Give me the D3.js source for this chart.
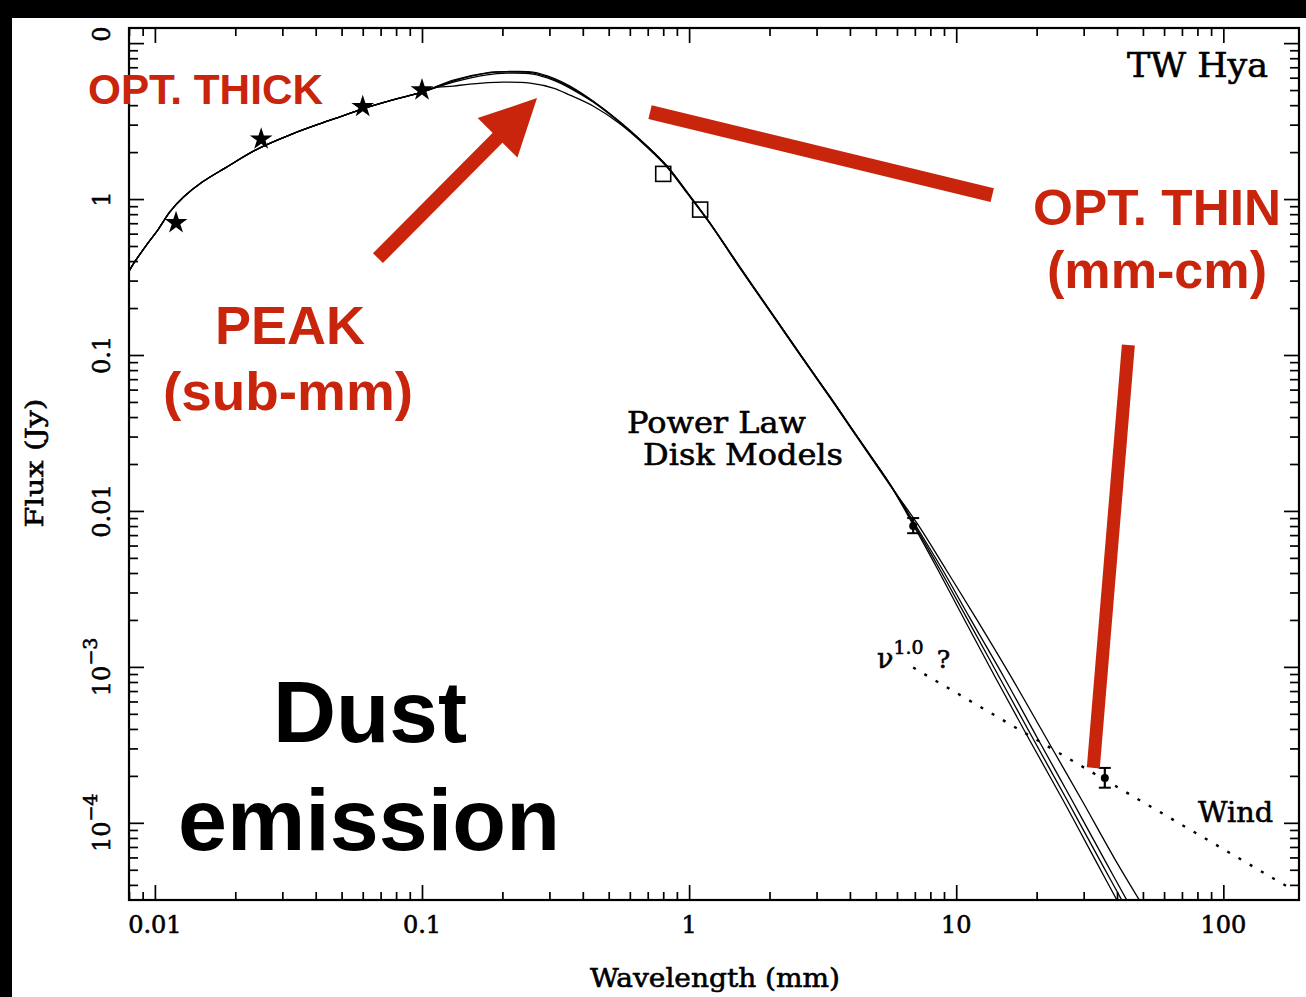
<!DOCTYPE html>
<html>
<head>
<meta charset="utf-8">
<script src="https://cdn.jsdelivr.net/npm/d3@7"></script>
<style>
  html, body { margin: 0; padding: 0; background: #000; }
  svg { display: block; }
</style>
</head>
<body>
<svg id="chart" width="1306" height="997"></svg>
<script>
// ---- Photometry: wavelength (mm), flux (Jy) ----
const irasStars = [[0.012, 0.705], [0.025, 2.42], [0.060, 3.91], [0.100, 5.00]];
const submmSquares = [[0.80, 1.45], [1.10, 0.856]];
// [wavelength, flux, low, high]
const radioPoints = [[6.9, 0.0080, 0.0072, 0.0090], [36, 1.94e-4, 1.68e-4, 2.25e-4]];

// ---- Power-law disk model SEDs ----
// optically thick part shared by all models
const thickPart = [[0.0080, 0.345], [0.0084, 0.395], [0.0094, 0.52], [0.0103, 0.640], [0.0114, 0.83],
  [0.0128, 1.03], [0.0150, 1.28], [0.0183, 1.58], [0.0243, 2.10], [0.0326, 2.61], [0.0422, 3.07],
  [0.0502, 3.40], [0.0612, 3.83], [0.0772, 4.31], [0.100, 4.85]];
const modelA = [[0.131, 5.71], [0.175, 6.42], [0.208, 6.57], [0.260, 6.52], [0.310, 5.97], [0.358, 5.30],
  [0.437, 4.25], [0.552, 3.12], [0.696, 2.19], [0.827, 1.63], [0.983, 1.11], [1.17, 0.744], [1.31, 0.562],
  [1.55, 0.367], [2.06, 0.181], [2.60, 0.1015], [3.37, 0.0538], [4.37, 0.0281], [5.66, 0.0147],
  [6.90, 0.00838], [8.71, 0.00418], [11.0, 0.00203], [14.6, 8.4e-4], [19.4, 3.46e-4], [26.0, 1.40e-4],
  [34.6, 5.7e-5], [43.0, 2.9e-5]];
const modelB = [[0.131, 5.62], [0.175, 6.25], [0.208, 6.42], [0.260, 6.33], [0.310, 5.79], [0.358, 5.15],
  [0.437, 4.19], [0.552, 3.08], [0.696, 2.17], [0.827, 1.62], [0.983, 1.10], [1.17, 0.738], [1.31, 0.558],
  [1.55, 0.364], [2.06, 0.181], [2.60, 0.1015], [3.37, 0.0536], [4.37, 0.0280], [5.66, 0.0147],
  [6.84, 0.00838], [8.55, 0.00418], [10.7, 0.00203], [14.1, 8.4e-4], [18.7, 3.46e-4], [25.1, 1.40e-4],
  [33.3, 5.7e-5], [41.2, 2.9e-5]];
const modelC = [[0.131, 5.80], [0.175, 6.45], [0.208, 6.55], [0.260, 6.45], [0.310, 5.88], [0.358, 5.22],
  [0.437, 4.22], [0.552, 3.10], [0.696, 2.18], [0.827, 1.62], [0.983, 1.105], [1.17, 0.741], [1.31, 0.560],
  [1.55, 0.362], [2.06, 0.180], [2.60, 0.101], [3.37, 0.054], [4.37, 0.0282], [5.68, 0.0147],
  [6.96, 0.00838], [8.90, 0.00418], [11.3, 0.00203], [15.2, 8.4e-4], [20.2, 3.46e-4], [27.1, 1.40e-4],
  [36.1, 5.7e-5], [44.9, 2.9e-5]];
const modelD = [[0.110, 5.15], [0.131, 5.30], [0.151, 5.46], [0.201, 5.62], [0.254, 5.54], [0.310, 5.15],
  [0.358, 4.64], [0.437, 3.95], [0.552, 3.03], [0.696, 2.15], [0.827, 1.60], [0.983, 1.09], [1.17, 0.735],
  [1.31, 0.555], [1.55, 0.360], [2.06, 0.178], [2.60, 0.100], [3.37, 0.053], [4.37, 0.0277], [5.70, 0.0143],
  [7.12, 0.00838], [9.18, 0.00418], [11.9, 0.00203], [16.2, 8.4e-4], [21.8, 3.46e-4], [29.5, 1.40e-4],
  [39.6, 5.7e-5], [50.2, 2.9e-5]];

// free-free wind, F ~ nu^1.0
const windLine = [[6.9, 9.9e-4], [183, 3.7e-5]];

// ---- Axis ticks ----
const xTickValues = [0.01, 0.1, 1, 10, 100];
const xTickLabels = ["0.01", "0.1", "1", "10", "100"];
const yTickValues = [1, 0.1, 0.01, 1e-3, 1e-4];
const yTickLabels = [["1"], ["0.1"], ["0.01"], ["10", "\u22123"], ["10", "\u22124"]];

// ---- Annotation anchors (data space) ----
const peakArrow = { from: [0.0684, 0.418], to: [0.2696, 4.44] };
const thinLine1 = { from: [0.714, 3.61], to: [13.64, 1.06] };
const thinLine2 = { from: [44.1, 0.116], to: [32.6, 2.25e-4] };

const RED = "#c8250c";
const SERIF = "'DejaVu Serif', 'Liberation Serif', serif";
const SANS = "'Liberation Sans', Arial, Helvetica, sans-serif";

(function draw() {
  const svg = d3.select("#chart");
  svg.append("rect").attr("x", 0).attr("y", 0).attr("width", 1306).attr("height", 997).attr("fill", "#000");
  svg.append("rect").attr("x", 12).attr("y", 18).attr("width", 1294).attr("height", 979).attr("fill", "#fff");

  const pL = 129, pR = 1299, pT = 28, pB = 900;
  const x = d3.scaleLog().domain([0.008, 192]).range([pL, pR]);
  const y = d3.scaleLog().domain([3.2e-5, 12.5]).range([pB, pT]);

  svg.append("clipPath").attr("id", "plotclip")
    .append("rect").attr("x", pL).attr("y", pT).attr("width", pR - pL).attr("height", pB - pT);

  // ---- Ticks on all four sides, pointing inward ----
  const isIn = (arr, v) => arr.some(m => Math.abs(m - v) / m < 1e-6);
  const yMajorAll = yTickValues.concat([10]);
  const xMinor = x.ticks().filter(v => !isIn(xTickValues, v));
  const yMinor = y.ticks().filter(v => !isIn(yMajorAll, v));

  function tickGroup(axis, transform) {
    const g = svg.append("g").attr("transform", transform).call(axis);
    g.select(".domain").remove();
    g.selectAll("line").attr("stroke", "#000").attr("stroke-width", 1.7);
    g.selectAll("text").remove();
    return g;
  }
  tickGroup(d3.axisBottom(x).tickValues(xTickValues).tickSize(-15).tickSizeOuter(0), `translate(0,${pB})`);
  tickGroup(d3.axisBottom(x).tickValues(xMinor).tickSize(-8).tickSizeOuter(0), `translate(0,${pB})`);
  tickGroup(d3.axisTop(x).tickValues(xTickValues).tickSize(-15).tickSizeOuter(0), `translate(0,${pT})`);
  tickGroup(d3.axisTop(x).tickValues(xMinor).tickSize(-8).tickSizeOuter(0), `translate(0,${pT})`);
  tickGroup(d3.axisLeft(y).tickValues(yMajorAll).tickSize(-15).tickSizeOuter(0), `translate(${pL},0)`);
  tickGroup(d3.axisLeft(y).tickValues(yMinor).tickSize(-9).tickSizeOuter(0), `translate(${pL},0)`);
  tickGroup(d3.axisRight(y).tickValues(yMajorAll).tickSize(-15).tickSizeOuter(0), `translate(${pR},0)`);
  tickGroup(d3.axisRight(y).tickValues(yMinor).tickSize(-9).tickSizeOuter(0), `translate(${pR},0)`);

  svg.append("rect").attr("x", pL).attr("y", pT).attr("width", pR - pL).attr("height", pB - pT)
    .attr("fill", "none").attr("stroke", "#000").attr("stroke-width", 2.2);

  // ---- Tick labels ----
  const labG = svg.append("g").attr("font-family", SERIF).attr("font-size", 24).attr("fill", "#000")
    .attr("stroke", "#000").attr("stroke-width", 0.6);
  xTickValues.forEach((v, i) => {
    labG.append("text").attr("x", x(v)).attr("y", 933).attr("text-anchor", "middle").text(xTickLabels[i]);
  });
  yTickValues.forEach((v, i) => {
    const parts = yTickLabels[i];
    const t = labG.append("text").attr("transform", `translate(110,${y(v)}) rotate(-90)`).attr("text-anchor", "middle");
    t.append("tspan").text(parts[0]);
    if (parts[1]) t.append("tspan").attr("dy", -13).attr("font-size", 19).text(parts[1]);
  });
  labG.append("text").attr("transform", "translate(110,34) rotate(-90)").attr("text-anchor", "middle").text("0");

  // ---- Axis titles ----
  const titles = svg.append("g").attr("font-family", SERIF).attr("fill", "#000")
    .attr("stroke", "#000").attr("stroke-width", 0.6);
  titles.append("text").attr("transform", "translate(43,463) rotate(-90)").attr("text-anchor", "middle")
    .attr("font-size", 25).attr("textLength", 129).attr("lengthAdjust", "spacingAndGlyphs")
    .text("Flux (Jy)");
  titles.append("text").attr("x", 715).attr("y", 987).attr("text-anchor", "middle")
    .attr("font-size", 26).attr("textLength", 250).attr("lengthAdjust", "spacingAndGlyphs")
    .text("Wavelength (mm)");

  // ---- Model curves ----
  const plot = svg.append("g").attr("clip-path", "url(#plotclip)");
  const line = d3.line().x(d => x(d[0])).y(d => y(d[1])).curve(d3.curveCatmullRom.alpha(0.5));
  [modelA, modelB, modelC, modelD].forEach(m => {
    plot.append("path").attr("d", line(thickPart.concat(m)))
      .attr("fill", "none").attr("stroke", "#000").attr("stroke-width", 1.3);
  });

  // wind component
  plot.append("path").attr("d", d3.line().x(d => x(d[0])).y(d => y(d[1]))(windLine))
    .attr("fill", "none").attr("stroke", "#000").attr("stroke-width", 2.4).attr("stroke-dasharray", "3,10");

  // ---- Data points ----
  plot.selectAll(".star").data(irasStars).join("path")
    .attr("transform", d => `translate(${x(d[0])},${y(d[1])})`)
    .attr("d", d3.symbol().type(d3.symbolStar).size(160)).attr("fill", "#000");
  plot.selectAll(".sq").data(submmSquares).join("rect")
    .attr("x", d => x(d[0]) - 7.5).attr("y", d => y(d[1]) - 7.5).attr("width", 15).attr("height", 15)
    .attr("fill", "none").attr("stroke", "#000").attr("stroke-width", 1.6);
  const eb = plot.selectAll(".eb").data(radioPoints).join("g");
  eb.append("line").attr("x1", d => x(d[0])).attr("x2", d => x(d[0]))
    .attr("y1", d => y(d[2])).attr("y2", d => y(d[3])).attr("stroke", "#000").attr("stroke-width", 2.2);
  eb.append("line").attr("x1", d => x(d[0]) - 6).attr("x2", d => x(d[0]) + 6)
    .attr("y1", d => y(d[2])).attr("y2", d => y(d[2])).attr("stroke", "#000").attr("stroke-width", 2);
  eb.append("line").attr("x1", d => x(d[0]) - 6).attr("x2", d => x(d[0]) + 6)
    .attr("y1", d => y(d[3])).attr("y2", d => y(d[3])).attr("stroke", "#000").attr("stroke-width", 2);
  eb.append("circle").attr("cx", d => x(d[0])).attr("cy", d => y(d[1])).attr("r", 4).attr("fill", "#000");

  // ---- Plot labels ----
  const txt = svg.append("g").attr("font-family", SERIF).attr("fill", "#000")
    .attr("stroke", "#000").attr("stroke-width", 0.6);
  txt.append("text").attr("x", 1127).attr("y", 77).attr("font-size", 34)
    .attr("textLength", 141).attr("lengthAdjust", "spacingAndGlyphs").text("TW Hya");
  txt.append("text").attr("x", 627).attr("y", 433).attr("font-size", 30)
    .attr("textLength", 179).attr("lengthAdjust", "spacingAndGlyphs").text("Power Law");
  txt.append("text").attr("x", 643).attr("y", 465).attr("font-size", 30)
    .attr("textLength", 200).attr("lengthAdjust", "spacingAndGlyphs").text("Disk Models");
  txt.append("text").attr("x", 1198).attr("y", 822).attr("font-size", 28)
    .attr("textLength", 75).attr("lengthAdjust", "spacingAndGlyphs").text("Wind");
  const nu = txt.append("text").attr("x", 877).attr("y", 668).attr("font-size", 27);
  nu.append("tspan").text("\u03bd");
  nu.append("tspan").attr("dy", -14).attr("font-size", 19).text("1.0");
  nu.append("tspan").attr("dy", 14).attr("dx", 13).attr("font-size", 25).text("?");

  // ---- Red annotations ----
  const px = p => [x(p[0]), y(p[1])];
  function band(a, b, w) {
    svg.append("line").attr("x1", a[0]).attr("y1", a[1]).attr("x2", b[0]).attr("y2", b[1])
      .attr("stroke", RED).attr("stroke-width", w).attr("stroke-linecap", "butt");
  }
  {
    const a = px(peakArrow.from), b = px(peakArrow.to);
    const dx = b[0] - a[0], dy = b[1] - a[1], len = Math.hypot(dx, dy);
    const ux = dx / len, uy = dy / len, nx = -uy, ny = ux;
    const headLen = 56, headHalf = 28;
    const base = [b[0] - ux * headLen, b[1] - uy * headLen];
    band(a, [base[0] + ux * 2, base[1] + uy * 2], 14);
    svg.append("path").attr("fill", RED).attr("d",
      `M${b[0]},${b[1]}L${base[0] + nx * headHalf},${base[1] + ny * headHalf}L${base[0] - nx * headHalf},${base[1] - ny * headHalf}Z`);
  }
  band(px(thinLine1.from), px(thinLine1.to), 14);
  band(px(thinLine2.from), px(thinLine2.to), 13);

  const red = svg.append("g").attr("font-family", SANS).attr("font-weight", "bold").attr("fill", RED);
  red.append("text").attr("x", 88).attr("y", 104).attr("font-size", 42)
    .attr("textLength", 235).attr("lengthAdjust", "spacingAndGlyphs").text("OPT. THICK");
  red.append("text").attr("x", 215).attr("y", 344).attr("font-size", 54)
    .attr("textLength", 150).attr("lengthAdjust", "spacingAndGlyphs").text("PEAK");
  red.append("text").attr("x", 163).attr("y", 410).attr("font-size", 54)
    .attr("textLength", 250).attr("lengthAdjust", "spacingAndGlyphs").text("(sub-mm)");
  red.append("text").attr("x", 1033).attr("y", 225).attr("font-size", 50.5)
    .attr("textLength", 248).attr("lengthAdjust", "spacingAndGlyphs").text("OPT. THIN");
  red.append("text").attr("x", 1047).attr("y", 288).attr("font-size", 52)
    .attr("textLength", 220).attr("lengthAdjust", "spacingAndGlyphs").text("(mm-cm)");

  const blk = svg.append("g").attr("font-family", SANS).attr("font-weight", "bold").attr("fill", "#000");
  blk.append("text").attr("x", 273).attr("y", 742).attr("font-size", 88)
    .attr("textLength", 194).attr("lengthAdjust", "spacingAndGlyphs").text("Dust");
  blk.append("text").attr("x", 178).attr("y", 850).attr("font-size", 88)
    .attr("textLength", 382).attr("lengthAdjust", "spacingAndGlyphs").text("emission");
})();
</script>
</body>
</html>
